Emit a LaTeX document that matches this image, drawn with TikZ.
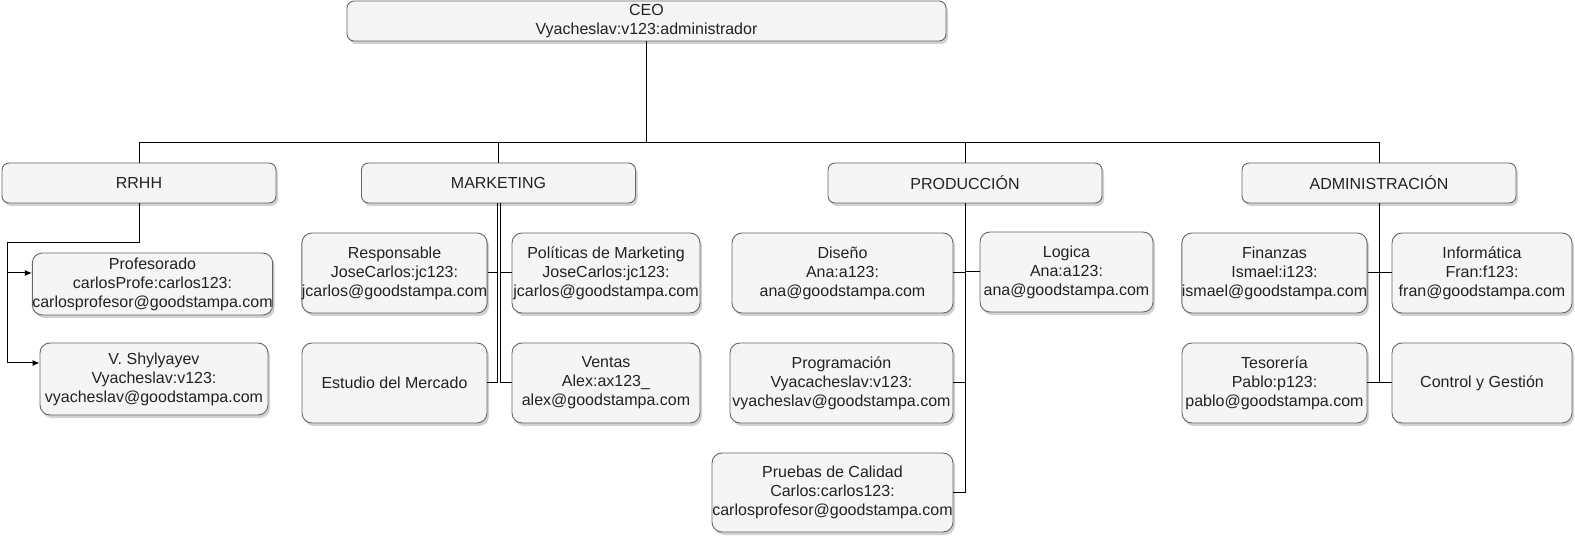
\documentclass[tikz,border=0pt]{standalone}
\usepackage{fontspec}
\setmainfont{Liberation Sans}
\usetikzlibrary{arrows.meta,shadows}
\definecolor{boxfill}{HTML}{F5F5F5}
\definecolor{boxline}{HTML}{666666}
\definecolor{boxtext}{HTML}{222222}
\tikzset{
 orgbox/.style={draw=boxline, fill=boxfill, line width=0.9pt, text=boxtext, align=center,
   inner sep=0pt, font=\fontsize{16}{19}\selectfont,
   drop shadow={shadow xshift=2pt,shadow yshift=-3pt,opacity=0.18,fill=black}},
 dept/.style={orgbox, rounded corners=7pt, minimum width=274pt, minimum height=40pt},
 leaf/.style={orgbox, rounded corners=10pt},
 link/.style={draw=black, line width=1pt},
 arr/.style={link, -{Latex[length=7pt,width=6pt]}}
}
\begin{document}
\begin{tikzpicture}[x=1pt,y=-1pt]
\useasboundingbox (0,0) rectangle (1575,537);

% CEO
\node[orgbox, rounded corners=7pt, minimum width=599pt, minimum height=40pt] (ceo) at (646.5,21) {CEO\\Vyacheslav:v123:administrador};

% departments
\node[dept] (rrhh)  at (139,183)   {RRHH};
\node[dept] (mkt)   at (498.5,183) {MARKETING};
\node[dept] (prod)  at (965,183)   {PRODUCCIÓN};
\node[dept] (admin) at (1379,183)  {ADMINISTRACIÓN};

% RRHH children
\node[leaf, minimum width=235pt, minimum height=62pt] (prof) at (152.5,284) {Profesorado\\carlosProfe:carlos123:\\carlosprofesor@goodstampa.com};
\node[leaf, minimum width=228pt, minimum height=72pt] (shyl) at (154,379) {V. Shylyayev\\Vyacheslav:v123:\\vyacheslav@goodstampa.com};

% MARKETING children
\node[leaf, minimum width=185pt, minimum height=80pt] (resp)    at (394.5,273) {Responsable\\JoseCarlos:jc123:\\jcarlos@goodstampa.com};
\node[leaf, minimum width=185pt, minimum height=80pt] (estudio) at (394.5,383) {Estudio del Mercado};
\node[leaf, minimum width=188pt, minimum height=80pt] (polit)   at (606,273)   {Políticas de Marketing\\JoseCarlos:jc123:\\jcarlos@goodstampa.com};
\node[leaf, minimum width=188pt, minimum height=80pt] (ventas)  at (606,383)   {Ventas\\Alex:ax123\_\\alex@goodstampa.com};

% PRODUCCION children
\node[leaf, minimum width=221pt, minimum height=80pt] (diseno)  at (842.5,273)  {Diseño\\Ana:a123:\\ana@goodstampa.com};
\node[leaf, minimum width=173pt, minimum height=80pt] (logica)  at (1066.5,272) {Logica\\Ana:a123:\\ana@goodstampa.com};
\node[leaf, minimum width=223pt, minimum height=80pt] (progr)   at (841.5,383)  {Programación\\Vyacacheslav:v123:\\vyacheslav@goodstampa.com};
\node[leaf, minimum width=241pt, minimum height=79pt] (pruebas) at (832.5,492.5) {Pruebas de Calidad\\Carlos:carlos123:\\carlosprofesor@goodstampa.com};

% ADMINISTRACION children
\node[leaf, minimum width=185pt, minimum height=80pt] (finan)   at (1274.5,273) {Finanzas\\Ismael:i123:\\ismael@goodstampa.com};
\node[leaf, minimum width=180pt, minimum height=80pt] (inform)  at (1482,273)   {Informática\\Fran:f123:\\fran@goodstampa.com};
\node[leaf, minimum width=185pt, minimum height=80pt] (tesor)   at (1274.5,383) {Tesorería\\Pablo:p123:\\pablo@goodstampa.com};
\node[leaf, minimum width=180pt, minimum height=80pt] (control) at (1482,383)   {Control y Gestión};

% CEO connectors
\coordinate (bus) at (646.5,143);
\draw[link, line width=1.5pt] (ceo.south) -- (bus);
\draw[link] (rrhh.north) |- (bus);
\draw[link] (mkt.north) |- (bus);
\draw[link] (prod.north) |- (bus);
\draw[link] (admin.north) |- (bus);

% RRHH connectors
\coordinate (rj) at (7.5,243);
\draw[link] (rrhh.south) |- (rj) -- (7.5,273);
\draw[arr] (7.5,273) -- (prof.west |- 0,273);
\draw[arr] (rj) |- (shyl.west |- 0,363);

% MARKETING connectors
\draw[link] ([xshift=-1.5pt]mkt.south) |- (resp.east);
\draw[link] ([xshift=-1.5pt]mkt.south) |- (estudio.east);
\draw[link] ([xshift=1.5pt]mkt.south) |- (polit.west);
\draw[link] ([xshift=1.5pt]mkt.south) |- (ventas.west);

% PRODUCCION connectors
\draw[link] (prod.south) |- (diseno.east);
\draw[link] (prod.south) |- (logica.west);
\draw[link] (prod.south) |- (progr.east);
\draw[link] (prod.south) |- (pruebas.east);

% ADMINISTRACION connectors
\draw[link] (admin.south) |- (finan.east);
\draw[link] (admin.south) |- (inform.west);
\draw[link] (admin.south) |- (tesor.east);
\draw[link] (admin.south) |- (control.west);
\end{tikzpicture}
\end{document}
